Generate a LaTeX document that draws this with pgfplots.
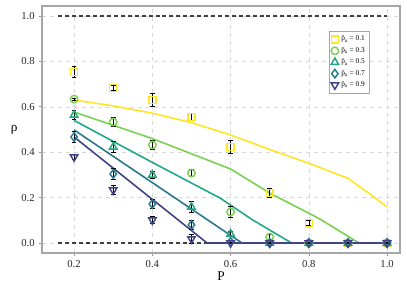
\documentclass[border=0pt]{standalone}
\usepackage{pgfplots}
\pgfplotsset{compat=1.18}
\usepackage{fontspec}
\setmainfont{Liberation Serif}
\definecolor{c1}{HTML}{FDE725}
\definecolor{c3}{HTML}{7AD151}
\definecolor{c5}{HTML}{22A884}
\definecolor{c7}{HTML}{2A788E}
\definecolor{c9}{HTML}{414487}
\begin{document}
\begin{tikzpicture}
\useasboundingbox (-31.5pt,-26.25pt) rectangle (273.75pt,189.75pt);
\begin{axis}[
  anchor=south west, at={(0pt,0pt)},
  scale only axis, width=268.5pt, height=185.25pt,
  xmin=0.118, xmax=1.033, ymin=-0.044, ymax=1.044,
  xtick={0.2,0.4,0.6,0.8,1.0}, ytick={0,0.2,0.4,0.6,0.8,1.0},
  /pgf/number format/assume math mode=true,
  xticklabel style={/pgf/number format/fixed,/pgf/number format/precision=1,/pgf/number format/fixed zerofill},
  yticklabel style={/pgf/number format/fixed,/pgf/number format/precision=1,/pgf/number format/fixed zerofill},
  tick label style={font=\fontsize{8}{9}\selectfont, text=black!85},
  tick align=outside, tick pos=left, major tick length=2pt,
  tick style={gray!80, line width=0.5pt},
  axis line style={gray!70, line width=0.8pt},
  grid=major, grid style={dashed, gray!30, line width=0.4pt},
  xlabel={P}, ylabel={ρ},
  label style={font=\fontsize{10}{11}\selectfont},
  xlabel style={yshift=4pt}, ylabel style={yshift=-4pt, rotate=-90},
  legend style={at={(0.916,0.899)}, anchor=north east, font=\fontsize{5.5}{6.5}\selectfont,
    draw=gray!70, line width=0.6pt, inner sep=1.5pt, row sep=-0.6pt, cells={anchor=west}},
  legend cell align=left,
  error bars/error bar style={black, line width=0.5pt},
  error bars/error mark options={rotate=90, mark size=1.8pt, black, line width=0.5pt},
]
% reference dashed lines
\addplot[forget plot, black!75, dashed, dash pattern=on 3pt off 2.2pt, line width=1pt] coordinates {(0.16,0) (1.0,0)};
\addplot[forget plot, black!75, dashed, dash pattern=on 3pt off 2.2pt, line width=1pt] coordinates {(0.16,1) (1.0,1)};
% model lines
\addplot[forget plot, c1, line width=1.2pt] coordinates {(0.2,0.63) (0.3,0.604) (0.4,0.572) (0.5,0.53) (0.6,0.476) (0.7,0.412) (0.8,0.351) (0.9,0.285) (0.948,0.226) (1.0,0.159)};
\addplot[forget plot, c3, line width=1.2pt] coordinates {(0.2,0.577) (0.4,0.46) (0.6,0.326) (0.7,0.22) (0.828,0.106) (0.928,0) (1.0,0)};
\addplot[forget plot, c5, line width=1.2pt] coordinates {(0.2,0.54) (0.4,0.355) (0.573,0.198) (0.657,0.101) (0.756,0) (1.0,0)};
\addplot[forget plot, c7, line width=1.2pt] coordinates {(0.2,0.498) (0.629,0) (1.0,0)};
\addplot[forget plot, c9, line width=1.2pt] coordinates {(0.2,0.467) (0.54,0) (1.0,0)};
% simulation points
\addplot[only marks, mark=square, mark size=2.6pt, c1, line width=1.1pt,
  error bars/.cd, y dir=both, y explicit] coordinates {
  (0.2,0.753) +- (0,0.025) (0.3,0.683) +- (0,0.01) (0.4,0.63) +- (0,0.03) (0.5,0.555) +- (0,0.015)
  (0.6,0.423) +- (0,0.03) (0.7,0.22) +- (0,0.02) (0.8,0.088) +- (0,0.01) (0.9,0) +- (0,0.002) (1.0,0) +- (0,0.002)};
\addlegendentry{\={p}\textsubscript{a} = 0.1}
\addplot[only marks, mark=o, mark size=2.8pt, c3, line width=1.1pt,
  error bars/.cd, y dir=both, y explicit] coordinates {
  (0.2,0.634) +- (0,0.005) (0.3,0.533) +- (0,0.02) (0.4,0.432) +- (0,0.02) (0.5,0.308) +- (0,0.015)
  (0.6,0.137) +- (0,0.025) (0.7,0.026) +- (0,0.01) (0.8,0) +- (0,0.002) (0.9,0) +- (0,0.002) (1.0,0) +- (0,0.002)};
\addlegendentry{\={p}\textsubscript{a} = 0.3}
\addplot[only marks, mark=triangle, mark size=3.2pt, c5, line width=1.1pt,
  error bars/.cd, y dir=both, y explicit] coordinates {
  (0.2,0.564) +- (0,0.02) (0.3,0.423) +- (0,0.025) (0.4,0.3) +- (0,0.015) (0.5,0.159) +- (0,0.025)
  (0.6,0.04) +- (0,0.01) (0.7,0) +- (0,0.002) (0.8,0) +- (0,0.002) (0.9,0) +- (0,0.002) (1.0,0) +- (0,0.002)};
\addlegendentry{\={p}\textsubscript{a} = 0.5}
\addplot[only marks, mark=diamond, mark size=3.2pt, c7, line width=1.1pt,
  error bars/.cd, y dir=both, y explicit] coordinates {
  (0.2,0.467) +- (0,0.025) (0.3,0.304) +- (0,0.025) (0.4,0.172) +- (0,0.02) (0.5,0.08) +- (0,0.02)
  (0.6,0.005) +- (0,0.005) (0.7,0) +- (0,0.002) (0.8,0) +- (0,0.002) (0.9,0) +- (0,0.002) (1.0,0) +- (0,0.002)};
\addlegendentry{\={p}\textsubscript{a} = 0.7}
\addplot[only marks, mark=triangle, mark options={rotate=180}, mark size=3.2pt, c9, line width=1.1pt,
  error bars/.cd, y dir=both, y explicit] coordinates {
  (0.2,0.379) +- (0,0.01) (0.3,0.233) +- (0,0.02) (0.4,0.101) +- (0,0.015) (0.5,0.018) +- (0,0.02)
  (0.6,0) +- (0,0.003) (0.7,0) +- (0,0.002) (0.8,0) +- (0,0.002) (0.9,0) +- (0,0.002) (1.0,0) +- (0,0.002)};
\addlegendentry{\={p}\textsubscript{a} = 0.9}
\end{axis}
\end{tikzpicture}
\end{document}
